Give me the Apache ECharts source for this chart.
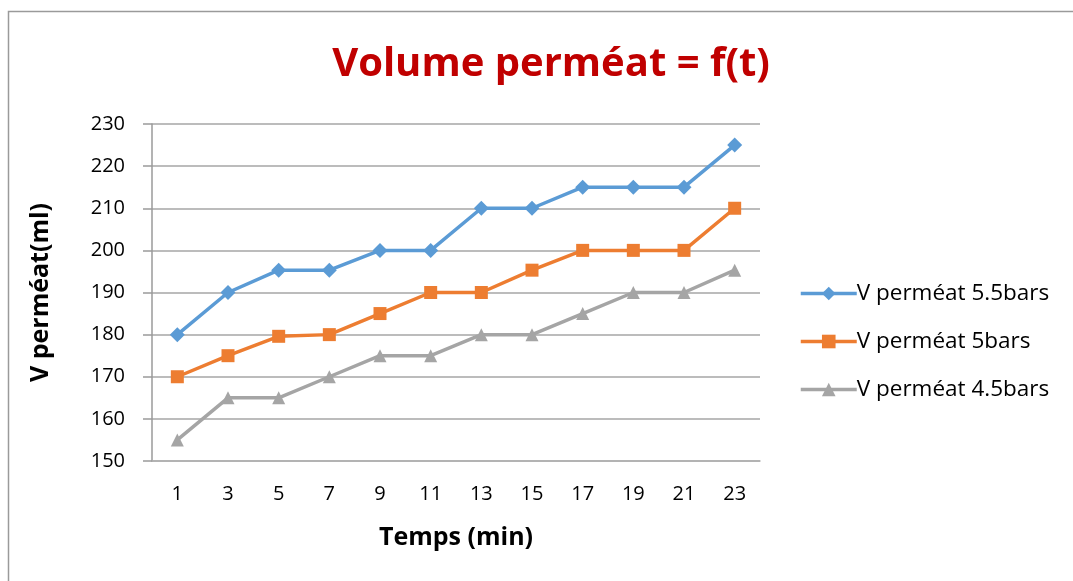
<!DOCTYPE html>
<html>
<head>
    <meta charset="utf-8">
    <title>Volume perméat</title>
    <script src="https://cdn.jsdelivr.net/npm/echarts@6/dist/echarts.min.js"></script>
    <style>
        * { margin: 0; padding: 0 }
        #main { width: 1073px; height: 581px; background: #fff; }
    </style>
</head>
<body>
    <div id="main"></div>
    <script type="text/javascript">
        // temps (min)
        var temps = ['1', '3', '5', '7', '9', '11', '13', '15', '17', '19', '21', '23'];
        // volumes (ml)
        var v55 = [180, 190, 195.3, 195.3, 200, 200, 210, 210, 215, 215, 215, 225];
        var v50 = [170, 175, 179.6, 180, 185, 190, 190, 195.3, 200, 200, 200, 210];
        var v45 = [155, 165, 165, 170, 175, 175, 180, 180, 185, 190, 190, 195.3];

        var font = 'Open Sans, Noto Sans, sans-serif';
        var myChart = echarts.init(document.getElementById('main'));

        function serie(name, data, color, symbol, size) {
            return {
                name: name,
                type: 'line',
                data: data,
                symbol: symbol,
                symbolSize: size,
                showAllSymbol: true,
                itemStyle: { color: color },
                lineStyle: { color: color, width: 3.5 },
                emphasis: { disabled: true },
                animation: false
            };
        }

        var option = {
            backgroundColor: '#fff',
            textStyle: { fontFamily: font },
            graphic: [{
                type: 'rect',
                shape: { x: 8.5, y: 11.5, width: 1100, height: 600 },
                style: { fill: 'none', stroke: '#9a9a9a', lineWidth: 1.5 },
                silent: true
            }],
            title: {
                text: 'Volume perméat = f(t)',
                left: 546,
                textAlign: 'center',
                top: 40,
                textStyle: { color: '#C00000', fontSize: 40, fontWeight: 'bold', fontFamily: font }
            },
            legend: {
                orient: 'vertical',
                left: 799,
                top: 280,
                padding: 0,
                itemWidth: 56,
                itemHeight: 17,
                itemGap: 21,
                lineStyle: { width: 3.5 },
                textStyle: { fontSize: 22.5, lineHeight: 27, color: '#000', fontFamily: font, padding: [0, 0, 0, -5] },
                data: ['V perméat 5.5bars', 'V perméat 5bars', 'V perméat 4.5bars']
            },
            grid: { left: 152, right: 313, top: 124, bottom: 120, containLabel: false },
            xAxis: {
                type: 'category',
                data: temps,
                boundaryGap: true,
                name: 'Temps (min)',
                nameLocation: 'middle',
                nameGap: 64,
                nameTextStyle: { fontSize: 25, fontWeight: 'bold', color: '#000', fontFamily: font },
                axisLine: { lineStyle: { color: '#b0b0b0', width: 1.5 } },
                axisTick: { show: false },
                axisLabel: { fontSize: 20, color: '#000', margin: 23, fontFamily: font }
            },
            yAxis: {
                type: 'value',
                min: 150,
                max: 230,
                interval: 10,
                name: 'V perméat(ml)',
                nameLocation: 'middle',
                nameGap: 99,
                nameTextStyle: { fontSize: 25, fontWeight: 'bold', color: '#000', fontFamily: font },
                axisLine: { show: true, lineStyle: { color: '#9a9a9a', width: 1.5 } },
                axisTick: { show: true, inside: false, length: 9, lineStyle: { color: '#9a9a9a', width: 1.5 } },
                splitLine: { lineStyle: { color: '#a6a6a6', width: 1.5 } },
                axisLabel: { fontSize: 20, color: '#000', margin: 27, fontFamily: font }
            },
            series: [
                serie('V perméat 5.5bars', v55, '#5B9BD5', 'diamond', 15),
                serie('V perméat 5bars', v50, '#ED7D31', 'rect', 13),
                serie('V perméat 4.5bars', v45, '#A5A5A5', 'triangle', 13)
            ]
        };

        myChart.setOption(option);
    </script>
</body>
</html>
